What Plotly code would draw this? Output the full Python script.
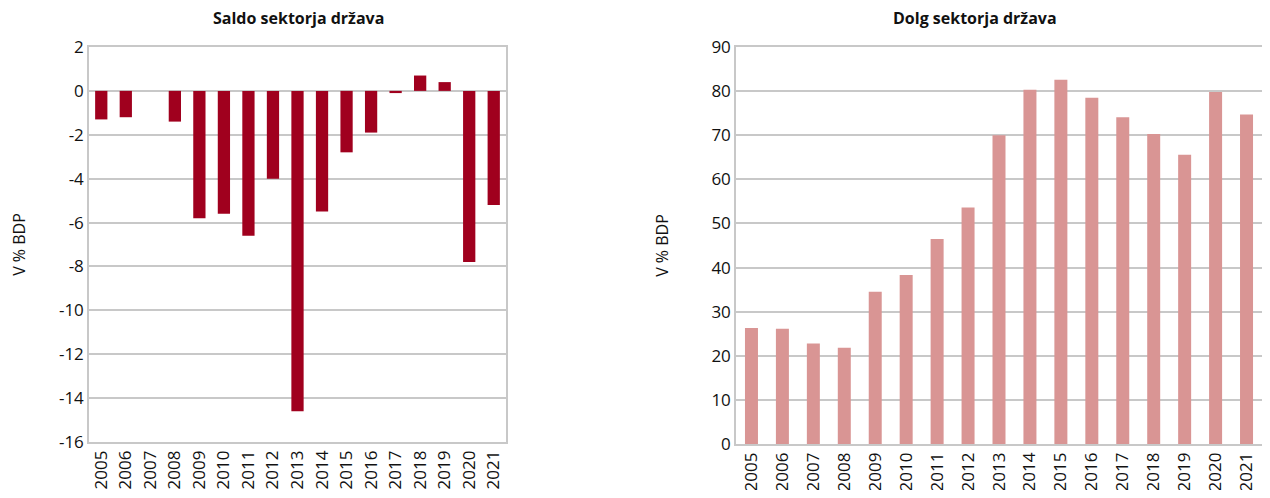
import plotly.graph_objects as go

years = [str(y) for y in range(2005, 2022)]
saldo = [-1.3, -1.2, 0.0, -1.4, -5.8, -5.6, -6.6, -4.0, -14.6, -5.5, -2.8, -1.9, -0.1, 0.7, 0.4, -7.8, -5.2]
dolg = [26.3, 26.1, 22.8, 21.8, 34.5, 38.3, 46.5, 53.6, 70.0, 80.3, 82.6, 78.5, 74.1, 70.3, 65.6, 79.8, 74.7]
saldo_ticks = [2, 0, -2, -4, -6, -8, -10, -12, -14, -16]
saldo_ticktext = ["2", "0", "-2", "-4", "-6", "-8", "-10", "-12", "-14", "-16"]

title_left = "Saldo sektorja država"
title_right = "Dolg sektorja država"
ytitle = "V % BDP"

OFF = 8  # default page body margin
W, H = 1270 - 2 * OFF, 498 - 2 * OFF
FONT = "Open Sans"
GRID = "#C8C8C8"
TXT = "#111111"

fig = go.Figure()
fig.add_trace(go.Bar(x=years, y=saldo, xaxis="x", yaxis="y", width=0.5,
                     marker=dict(color="#A0001E", line=dict(width=0)),
                     showlegend=False))
fig.add_trace(go.Bar(x=years, y=dolg, xaxis="x2", yaxis="y2", width=0.42,
                     marker=dict(color="#D99594", line=dict(width=0)),
                     showlegend=False))

def px_x(p):
    return (p - OFF) / W

def px_y(p):
    return 1 - (p - OFF) / H

axis_common = dict(showline=True, linecolor=GRID, linewidth=1.5, mirror=True, automargin=False,
                   ticks="", tickfont=dict(family=FONT, size=17, color=TXT))

fig.update_layout(
    width=W, height=H,
    margin=dict(l=0, r=0, t=0, b=0, autoexpand=False),
    paper_bgcolor="white", plot_bgcolor="white",
    xaxis=dict(domain=[px_x(89), px_x(506)], anchor="y", tickangle=-90,
               showgrid=False, type="category", **axis_common),
    yaxis=dict(domain=[px_y(442), px_y(47)], anchor="x", range=[-16, 2],
               tickmode="array", tickvals=saldo_ticks, ticktext=saldo_ticktext,
               showgrid=True, gridcolor=GRID, gridwidth=1.5, zeroline=False,
               title=dict(text=ytitle, font=dict(family=FONT, size=16, color=TXT), standoff=36),
               **axis_common),
    xaxis2=dict(domain=[px_x(736), px_x(1262)], anchor="y2", tickangle=-90,
                showgrid=False, type="category", **axis_common),
    yaxis2=dict(domain=[px_y(444), px_y(47)], anchor="x2", range=[0, 90], dtick=10,
                showgrid=True, gridcolor=GRID, gridwidth=1.5, zeroline=False,
                title=dict(text=ytitle, font=dict(family=FONT, size=16, color=TXT), standoff=39),
                **axis_common),
    annotations=[
        dict(text="<b>" + title_left + "</b>", x=px_x(298), y=px_y(18), xref="paper", yref="paper",
             xanchor="center", yanchor="middle",
             showarrow=False, font=dict(family=FONT, size=16, color=TXT)),
        dict(text="<b>" + title_right + "</b>", x=px_x(975), y=px_y(18), xref="paper", yref="paper",
             xanchor="center", yanchor="middle",
             showarrow=False, font=dict(family=FONT, size=16, color=TXT)),
    ],
)

fig.write_html("out.html")
